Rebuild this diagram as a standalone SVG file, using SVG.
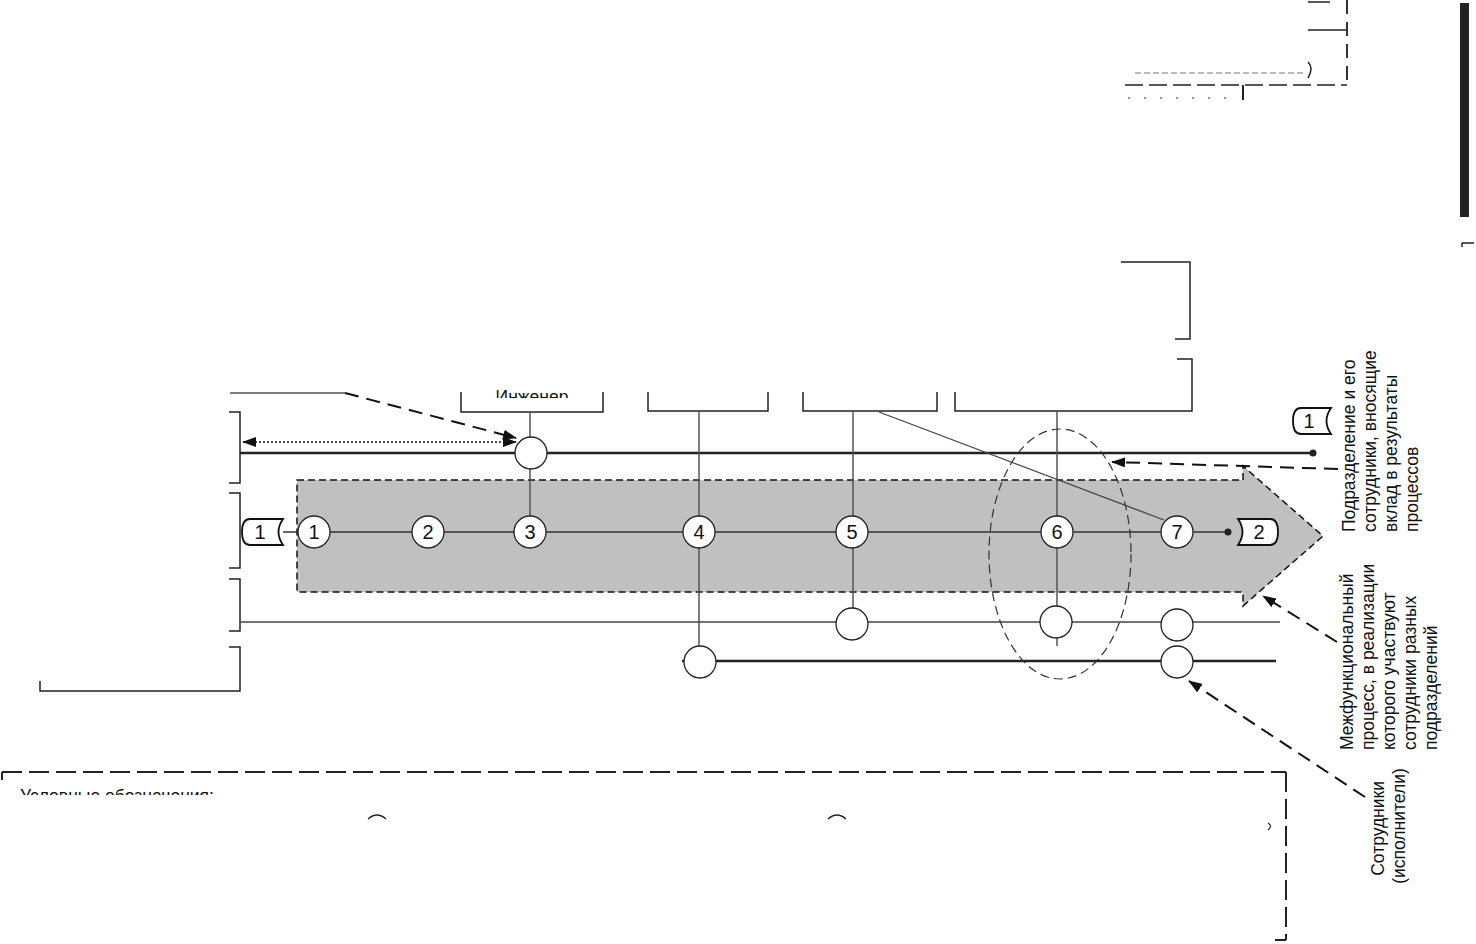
<svg xmlns="http://www.w3.org/2000/svg" width="1476" height="944" viewBox="0 0 1476 944">
<style>
.thick{stroke:#222;stroke-width:2.5;fill:none}
.thin{stroke:#444;stroke-width:1.3;fill:none}
.gray{stroke:#555;stroke-width:1.5;fill:none}
.br{stroke:#222;stroke-width:1.5;fill:none}
.dash{stroke:#111;stroke-width:2;fill:none;stroke-dasharray:14,8}
.node{fill:#fff;stroke:#222;stroke-width:1.3}
.lbl{font-family:"Liberation Sans",Arial,sans-serif;font-size:20px;fill:#111;text-anchor:middle}
.note{font-family:"Liberation Sans",Arial,sans-serif;font-size:17.5px;fill:#111}
.tag{fill:#fff;stroke:#111;stroke-width:1.8}
</style>
<defs>
<marker id="ar" viewBox="0 0 14 10" refX="13" refY="5" markerWidth="14" markerHeight="10" markerUnits="userSpaceOnUse" orient="auto"><path d="M0,0 L14,5 L0,10 Z" fill="#111"/></marker>
<marker id="ars" viewBox="0 0 14 10" refX="1" refY="5" markerWidth="14" markerHeight="10" markerUnits="userSpaceOnUse" orient="auto"><path d="M14,0 L0,5 L14,10 Z" fill="#111"/></marker>
<clipPath id="legclip"><rect x="0" y="780" width="400" height="15"/></clipPath>
<clipPath id="boxclip"><rect x="460" y="380" width="150" height="18"/></clipPath>
</defs>
<rect width="1476" height="944" fill="#fff"/>

<g id="topright">
<line x1="1308" y1="2" x2="1330" y2="2" class="br"/>
<line x1="1308" y1="30" x2="1346" y2="30" class="br"/>
<line x1="1347" y1="0" x2="1347" y2="85" stroke="#333" stroke-width="2" stroke-dasharray="14,8"/>
<line x1="1125" y1="85" x2="1347" y2="85" stroke="#222" stroke-width="1.5" stroke-dasharray="18,6"/>
<line x1="1135" y1="73" x2="1305" y2="73" stroke="#777" stroke-width="1.2" stroke-dasharray="6,3"/>
<path d="M1308,62 Q1314,68 1308,78" class="br"/>
<line x1="1128" y1="98" x2="1240" y2="98" stroke="#777" stroke-width="1.5" stroke-dasharray="2,14"/>
<line x1="1243" y1="85" x2="1243" y2="100" stroke="#222" stroke-width="2"/>
<rect x="1460" y="3" width="9" height="214" fill="#222"/>
<path d="M1462,243 L1474,243 M1462,243 L1462,247" stroke="#222" stroke-width="1.5"/>
</g>

<g id="topboxes">
<path d="M461,392 V412 H603 V392" class="br"/>
<path d="M648,392 V411 H768 V392" class="br"/>
<path d="M803,392 V411 H937 V392" class="br"/>
<path d="M955,392 V411 H1192 V359 H1177" class="br"/>
<path d="M1121,262 H1190 V339 H1175" class="br"/>
<g clip-path="url(#boxclip)"><text x="532" y="403" class="note" text-anchor="middle" font-size="17">Инженер</text></g>
</g>

<g id="leftboxes">
<path d="M229,412 H240 V483 H229" class="br"/>
<path d="M229,493 H240 V568 H229" class="br"/>
<path d="M229,579 H240 V631 H229" class="br"/>
<path d="M229,647 H240 V691 H40 V681" class="br"/>
</g>

<g id="process">
<polygon points="297,480 1243,480 1243,466 1323,536 1243,606 1243,592 297,592" fill="#c0c0c0" stroke="#111" stroke-width="1.5" stroke-dasharray="7,4"/>
</g>

<g id="connectors">
<line x1="230" y1="393" x2="345" y2="393" class="gray"/>
<line x1="345" y1="393" x2="516" y2="438" class="dash" marker-end="url(#ar)"/>
<line x1="243" y1="442" x2="516" y2="442" stroke="#111" stroke-width="1.5" stroke-dasharray="2,2" marker-start="url(#ars)" marker-end="url(#ar)"/>
<line x1="240" y1="453" x2="1313" y2="453" class="thick"/>
<circle cx="1313" cy="453" r="3.5" fill="#222"/>
<line x1="283" y1="532" x2="1228" y2="532" stroke="#333" stroke-width="1.6"/>
<circle cx="1228" cy="532" r="3.5" fill="#222"/>
<line x1="530" y1="412" x2="530" y2="516" class="gray"/>
<line x1="699" y1="411" x2="699" y2="662" class="gray"/>
<line x1="853" y1="411" x2="853" y2="608" class="gray"/>
<line x1="1057" y1="411" x2="1057" y2="646" class="gray"/>
<line x1="879" y1="412" x2="1164" y2="520" class="thin"/>
<line x1="240" y1="622" x2="1280" y2="622" class="thin"/>
<line x1="682" y1="661" x2="1276" y2="661" class="thick"/>
<ellipse cx="1060" cy="554" rx="71" ry="125" fill="none" stroke="#333" stroke-width="1.2" stroke-dasharray="9,5"/>
<line x1="1338" y1="469" x2="1112" y2="462" class="dash" marker-end="url(#ar)"/>
<line x1="1337" y1="642" x2="1263" y2="596" class="dash" marker-end="url(#ar)"/>
<line x1="1365" y1="797" x2="1189" y2="681" class="dash" marker-end="url(#ar)"/>
</g>

<g id="tag1left"><path d="M250,519 L283,519 Q274,532 283,545 L250,545 Q242,545 242,532 Q242,519 250,519 Z" class="tag"/><text x="260" y="539" class="lbl">1</text></g>
<g id="tag2right"><path d="M1238,519 L1270,519 Q1278,519 1278,532 Q1278,545 1270,545 L1238,545 Q1247,532 1238,519 Z" class="tag"/><text x="1259" y="539" class="lbl">2</text></g>
<g id="tag1top"><path d="M1301,408 L1331,408 Q1322,421 1331,434 L1301,434 Q1293,434 1293,421 Q1293,408 1301,408 Z" class="tag"/><text x="1309" y="428" class="lbl">1</text></g>

<g id="n1"><circle cx="314" cy="532" r="16" class="node"/><text x="314" y="539" class="lbl">1</text></g>
<g id="n2"><circle cx="428" cy="532" r="16" class="node"/><text x="428" y="539" class="lbl">2</text></g>
<g id="n3"><circle cx="530" cy="532" r="16" class="node"/><text x="530" y="539" class="lbl">3</text></g>
<g id="n4"><circle cx="699" cy="532" r="16" class="node"/><text x="699" y="539" class="lbl">4</text></g>
<g id="n5"><circle cx="852" cy="532" r="16" class="node"/><text x="852" y="539" class="lbl">5</text></g>
<g id="n6"><circle cx="1057" cy="532" r="16" class="node"/><text x="1057" y="539" class="lbl">6</text></g>
<g id="n7"><circle cx="1177" cy="532" r="16" class="node"/><text x="1177" y="539" class="lbl">7</text></g>
<g id="u1"><circle cx="531" cy="453" r="16" class="node"/></g>
<g id="e5"><circle cx="852" cy="624" r="16" class="node"/></g>
<g id="e6"><circle cx="1056" cy="622" r="16" class="node"/></g>
<g id="e7"><circle cx="1177" cy="625" r="16" class="node"/></g>
<g id="f4"><circle cx="700" cy="662" r="16" class="node"/></g>
<g id="f7"><circle cx="1177" cy="662" r="16" class="node"/></g>

<g id="notes">
<text class="note" transform="translate(1355,532) rotate(-90)">
<tspan x="0" y="0">Подразделение и его</tspan>
<tspan x="0" y="21">сотрудники, вносящие</tspan>
<tspan x="0" y="42">вклад в результаты</tspan>
<tspan x="0" y="63">процессов</tspan>
</text>
<text class="note" transform="translate(1353,750) rotate(-90)">
<tspan x="0" y="0">Межфункциональный</tspan>
<tspan x="0" y="21">процесс, в реализации</tspan>
<tspan x="0" y="42">которого участвуют</tspan>
<tspan x="0" y="63">сотрудники разных</tspan>
<tspan x="0" y="84">подразделений</tspan>
</text>
<text class="note" text-anchor="middle" transform="translate(1384,826) rotate(-90)">
<tspan x="0" y="0">Сотрудники</tspan>
<tspan x="0" y="21">(исполнители)</tspan>
</text>
</g>

<g id="legend">
<path d="M2,780 V772" stroke="#222" stroke-width="2"/>
<line x1="2" y1="772" x2="1286" y2="772" stroke="#222" stroke-width="2" stroke-dasharray="20,7"/>
<line x1="1286" y1="772" x2="1286" y2="940" stroke="#222" stroke-width="2" stroke-dasharray="20,7"/>
<path d="M1275,940 H1286" stroke="#222" stroke-width="2"/>
<g clip-path="url(#legclip)"><text x="20" y="802" class="note" font-size="17">Условные обозначения:</text></g>
<path d="M368,819 Q377,811 386,819" stroke="#222" stroke-width="1.2" fill="none"/>
<path d="M828,819 Q837,811 846,819" stroke="#222" stroke-width="1.2" fill="none"/>
<path d="M1268,823 Q1273,826 1268,830" stroke="#222" stroke-width="1.2" fill="none"/>
</g>
</svg>
